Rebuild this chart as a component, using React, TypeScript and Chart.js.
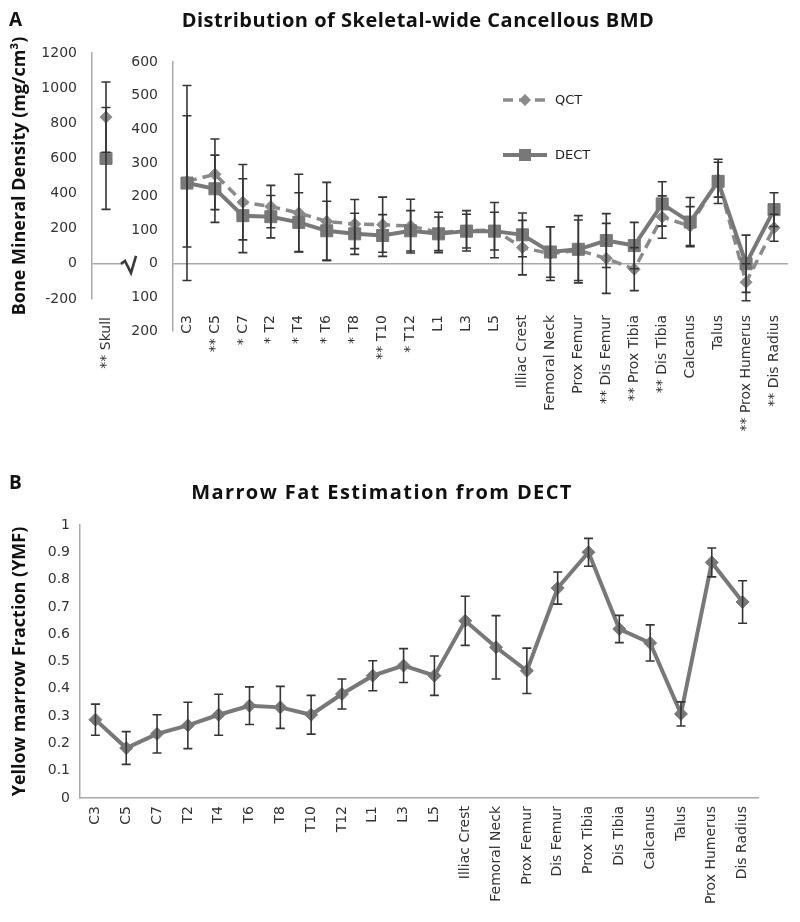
import React, { useEffect, useRef } from "react";
import { Chart, registerables } from "chart.js";
Chart.register(...registerables);

// ---------- Panel A data ----------
const skullLabels = ["** Skull"];
const skullQct = [835];
const skullQctErr = [200];
const skullDect = [600];
const skullDectErr = [290];

const siteLabels = [
  "C3", "** C5", "* C7", "* T2", "* T4", "* T6", "* T8", "** T10", "* T12",
  "L1", "L3", "L5", "Illiac Crest", "Femoral Neck", "Prox Femur", "** Dis Femur",
  "** Prox Tibia", "** Dis Tibia", "Calcanus", "Talus", "** Prox Humerus", "** Dis Radius",
];
const qctBmd = [245, 266, 183, 170, 151, 126, 118, 116, 112, 93, 98, 100, 48, 30, 40, 16, -16, 139, 112, 250, -55, 107];
const qctErr = [195, 105, 112, 63, 115, 116, 73, 82, 80, 60, 60, 82, 81, 80, 90, 104, 64, 63, 58, 52, 55, 40];
const dectBmd = [240, 223, 143, 140, 123, 98, 89, 84, 98, 89, 97, 97, 86, 35, 43, 69, 54, 178, 124, 245, 0, 161];
const dectErr = [290, 100, 110, 63, 88, 88, 61, 62, 60, 50, 50, 56, 65, 75, 100, 80, 69, 66, 73, 66, 85, 50];

const skullTicks = { min: -200, max: 1200, step: 200 };
const siteTicks = { min: -200, max: 600, step: 100 };

// ---------- Panel B data ----------
const ymfLabels = [
  "C3", "C5", "C7", "T2", "T4", "T6", "T8", "T10", "T12", "L1", "L3", "L5",
  "Illiac Crest", "Femoral Neck", "Prox Femur", "Dis Femur", "Prox Tibia",
  "Dis Tibia", "Calcanus", "Talus", "Prox Humerus", "Dis Radius",
];
const ymfValues = [0.287, 0.183, 0.235, 0.266, 0.305, 0.338, 0.332, 0.305, 0.381, 0.448, 0.485, 0.448, 0.649, 0.552, 0.466, 0.769, 0.9, 0.619, 0.568, 0.308, 0.863, 0.718];
const ymfErr = [0.057, 0.06, 0.07, 0.085, 0.075, 0.069, 0.077, 0.071, 0.055, 0.055, 0.062, 0.072, 0.09, 0.116, 0.083, 0.059, 0.051, 0.05, 0.066, 0.044, 0.053, 0.078];
const ymfTicks = { min: 0, max: 1, step: 0.1 };

// ---------- styles ----------
const AXIS = "#a9a9a9";
const ERR = "#353535";
const QCT_COLOR = "#8a8a8a";
const DECT_COLOR = "#787878";
const TICK_COLOR = "#333";
const TICK_FONT = "DejaVu Sans";
const TITLE_FONT = "Open Sans";

const errorBarPlugin = {
  id: "errorBars",
  afterDatasetsDraw(chart: any) {
    const ctx = chart.ctx;
    const ys = chart.scales.y;
    chart.data.datasets.forEach((ds: any, i: number) => {
      if (!ds.errors) return;
      const meta = chart.getDatasetMeta(i);
      ctx.save();
      ctx.strokeStyle = ERR;
      ctx.lineWidth = 1.6;
      meta.data.forEach((pt: any, j: number) => {
        const v = ds.data[j];
        const e = ds.errors[j];
        const x = pt.x;
        const yt = ys.getPixelForValue(v + e);
        const yb = ys.getPixelForValue(v - e);
        const c = 4.5;
        ctx.beginPath();
        ctx.moveTo(x, yt);
        ctx.lineTo(x, yb);
        ctx.moveTo(x - c, yt);
        ctx.lineTo(x + c, yt);
        ctx.moveTo(x - c, yb);
        ctx.lineTo(x + c, yb);
        ctx.stroke();
      });
      ctx.restore();
    });
  },
};

const breakPlugin = {
  id: "axisBreak",
  afterDraw(chart: any) {
    const ctx = chart.ctx;
    const y0 = chart.scales.y.getPixelForValue(0);
    const x0 = chart.chartArea.right + 1;
    ctx.save();
    ctx.strokeStyle = AXIS;
    ctx.lineWidth = 1.5;
    ctx.beginPath();
    ctx.moveTo(chart.chartArea.right, y0);
    ctx.lineTo(x0 + 1, y0);
    ctx.stroke();
    ctx.strokeStyle = "#3a3a3a";
    ctx.lineWidth = 2.6;
    ctx.beginPath();
    ctx.moveTo(x0, y0);
    ctx.lineTo(x0 + 4, y0 - 3);
    ctx.lineTo(x0 + 10, y0 + 9);
    ctx.lineTo(x0 + 15, y0 - 8);
    ctx.stroke();
    ctx.restore();
  },
};

const legendPlugin = {
  id: "customLegend",
  afterDraw(chart: any) {
    const ctx = chart.ctx;
    const a = chart.chartArea;
    const items = [
      { ds: chart.data.datasets[0], y: a.top + 38 },
      { ds: chart.data.datasets[1], y: a.top + 93 },
    ];
    const lx = a.left + 330;
    items.forEach(({ ds, y }) => {
      ctx.save();
      ctx.strokeStyle = ds.borderColor;
      ctx.lineWidth = ds.borderWidth;
      ctx.setLineDash(ds.borderDash || []);
      ctx.beginPath();
      ctx.moveTo(lx, y);
      ctx.lineTo(lx + 44, y);
      ctx.stroke();
      ctx.setLineDash([]);
      ctx.fillStyle = ds.pointBackgroundColor;
      const cx = lx + 22;
      if (ds.pointStyle === "rect") {
        const s = ds.pointRadius * Math.SQRT1_2;
        ctx.fillRect(cx - s, y - s, 2 * s, 2 * s);
      } else {
        const r = ds.pointRadius;
        ctx.beginPath();
        ctx.moveTo(cx, y - r);
        ctx.lineTo(cx + r, y);
        ctx.lineTo(cx, y + r);
        ctx.lineTo(cx - r, y);
        ctx.closePath();
        ctx.fill();
      }
      ctx.fillStyle = "#222";
      ctx.font = `13px '${TICK_FONT}'`;
      ctx.textBaseline = "middle";
      ctx.textAlign = "left";
      ctx.fillText(ds.label, lx + 52, y + 1);
      ctx.restore();
    });
  },
};

function qctDataset(data: number[], errors: number[]) {
  return {
    label: "QCT",
    data,
    errors,
    borderColor: QCT_COLOR,
    borderWidth: 3.5,
    borderDash: [10, 6],
    pointStyle: "rectRot",
    pointRadius: 6,
    pointBackgroundColor: QCT_COLOR,
    pointBorderColor: QCT_COLOR,
    pointBorderWidth: 1,
    order: 1,
  };
}
function dectDataset(data: number[], errors: number[]) {
  return {
    label: "DECT",
    data,
    errors,
    borderColor: DECT_COLOR,
    borderWidth: 4,
    pointStyle: "rect",
    pointRadius: 8.5,
    pointBackgroundColor: DECT_COLOR,
    pointBorderColor: DECT_COLOR,
    pointBorderWidth: 1,
    order: 0,
  };
}

// x axis; if `at` is given, the axis is anchored at that y value (labels are not clipped)
function xAxis(height: number, padding: number, border: boolean, at?: number) {
  const ax: any = {
    type: "category",
    offset: true,
    grid: { display: false, drawTicks: false },
    border: { display: border, color: AXIS, width: 1.5 },
    ticks: {
      autoSkip: false,
      minRotation: 90,
      maxRotation: 90,
      padding,
      color: TICK_COLOR,
      font: { family: TICK_FONT, size: 14 },
    },
    afterFit: (s: any) => {
      s.height = height;
    },
  };
  if (at !== undefined) ax.position = { y: at };
  return ax;
}

function yAxis(width: number, t: { min: number; max: number; step: number }, padding: number, zeroLine: boolean, fmt: (v: number) => string, title?: string) {
  return {
    min: t.min,
    max: t.max,
    grid: {
      display: zeroLine,
      drawTicks: false,
      lineWidth: 1.5,
      color: (c: any) => (c.tick && c.tick.value === 0 ? AXIS : "rgba(0,0,0,0)"),
    },
    border: { display: true, color: AXIS, width: 1.5 },
    ticks: {
      stepSize: t.step,
      padding,
      color: TICK_COLOR,
      font: { family: TICK_FONT, size: 14 },
      callback: (v: any) => fmt(Number(v)),
    },
    title: title
      ? {
          display: true,
          text: title,
          color: "#111",
          font: { family: TITLE_FONT, size: 18, weight: "bold" },
          padding: { top: 9, bottom: 0 },
        }
      : { display: false },
    afterFit: (s: any) => {
      s.width = width;
    },
  };
}

function useChart(ref: React.RefObject<HTMLCanvasElement>, make: () => any) {
  useEffect(() => {
    if (!ref.current) return;
    const chart = new Chart(ref.current, make());
    return () => chart.destroy();
  }, []);
}

export default function App() {
  const skullRef = useRef<HTMLCanvasElement>(null);
  const siteRef = useRef<HTMLCanvasElement>(null);
  const ymfRef = useRef<HTMLCanvasElement>(null);

  useChart(skullRef, () => ({
    type: "line",
    data: {
      labels: skullLabels,
      datasets: [qctDataset(skullQct, skullQctErr), dectDataset(skullDect, skullDectErr)],
    },
    options: {
      animation: false,
      responsive: false,
      layout: { padding: { top: 53, right: 100, bottom: 161, left: 0 } },
      plugins: { legend: { display: false }, tooltip: { enabled: false } },
      scales: {
        x: xAxis(161, 18, false, skullTicks.min),
        y: yAxis(92, skullTicks, 15, true, (v) => String(v), "Bone Mineral Density (mg/cm³)"),
      },
    },
    plugins: [errorBarPlugin, breakPlugin],
  }));

  useChart(siteRef, () => ({
    type: "line",
    data: {
      labels: siteLabels,
      datasets: [qctDataset(qctBmd, qctErr), dectDataset(dectBmd, dectErr)],
    },
    options: {
      animation: false,
      responsive: false,
      layout: { padding: { top: 62, right: 12, bottom: 129, left: 0 } },
      plugins: { legend: { display: false }, tooltip: { enabled: false } },
      scales: {
        x: xAxis(129, -16, false, siteTicks.min),
        y: yAxis(73, siteTicks, 15, true, (v) => String(Math.abs(v))),
      },
    },
    plugins: [errorBarPlugin, legendPlugin],
  }));

  useChart(ymfRef, () => ({
    type: "line",
    data: {
      labels: ymfLabels,
      datasets: [
        {
          label: "YMF",
          data: ymfValues,
          errors: ymfErr,
          borderColor: DECT_COLOR,
          borderWidth: 4,
          pointStyle: "rectRot",
          pointRadius: 6.5,
          pointBackgroundColor: DECT_COLOR,
          pointBorderColor: DECT_COLOR,
          pointBorderWidth: 1,
        },
      ],
    },
    options: {
      animation: false,
      responsive: false,
      layout: { padding: { top: 65, right: 42, bottom: 0, left: 0 } },
      plugins: { legend: { display: false }, tooltip: { enabled: false } },
      scales: {
        x: xAxis(124, 8, true),
        y: yAxis(80, ymfTicks, 10, false, (v) => String(Math.round(v * 10) / 10), "Yellow marrow Fraction (YMF)"),
      },
    },
    plugins: [errorBarPlugin],
  }));

  const abs = (l: number, t: number): React.CSSProperties => ({ position: "absolute", left: l, top: t });
  const titleStyle: React.CSSProperties = {
    fontFamily: TITLE_FONT,
    fontWeight: 700,
    fontSize: 20,
    lineHeight: 1,
    color: "#111",
    textAlign: "center",
    width: 600,
    whiteSpace: "nowrap",
  };

  return (
    <div style={{ position: "absolute", left: 0, top: 0, width: 800, height: 922, background: "#fff", overflow: "hidden" }}>
      <canvas ref={siteRef} width={700} height={460} style={abs(100, 0)} />
      <canvas ref={skullRef} width={220} height={460} style={abs(0, 0)} />
      <canvas ref={ymfRef} width={800} height={462} style={abs(0, 460)} />
      <div style={{ ...abs(9, 10), fontFamily: TITLE_FONT, fontWeight: 700, fontSize: 19, lineHeight: 1, color: "#111" }}>A</div>
      <div style={{ ...abs(9, 473), fontFamily: TITLE_FONT, fontWeight: 700, fontSize: 19, lineHeight: 1, color: "#111" }}>B</div>
      <div style={{ ...abs(418 - 300, 10), ...titleStyle, letterSpacing: 0.5 }}>Distribution of Skeletal-wide Cancellous BMD</div>
      <div style={{ ...abs(382 - 300, 482), ...titleStyle, letterSpacing: 1.4 }}>Marrow Fat Estimation from DECT</div>
    </div>
  );
}
